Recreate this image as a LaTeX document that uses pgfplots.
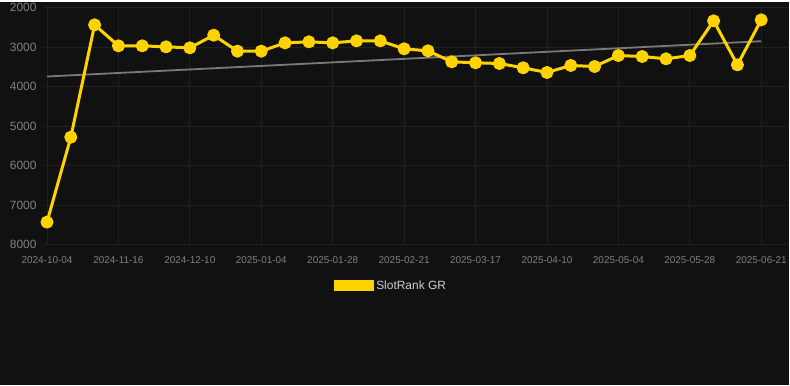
\documentclass[border=0pt]{standalone}
\usepackage{pgfplots}
\pgfplotsset{compat=1.18}
\usepackage{fontspec}
\setmainfont{Liberation Sans}
\definecolor{bg}{HTML}{111111}
\definecolor{gridc}{HTML}{202020}
\definecolor{gold}{HTML}{FFD300}
\definecolor{trend}{HTML}{7A7A7A}
\definecolor{ticktxt}{HTML}{808080}
\definecolor{legtxt}{HTML}{D0D0D0}
\begin{document}
\begin{tikzpicture}
\fill[bg] (0,0) rectangle (790bp,-384bp);
\begin{axis}[
  at={(43bp,-6bp)}, anchor=north west,
  scale only axis, width=747bp, height=237.3bp,
  xmin=-0.17, xmax=31.18,
  ymin=2000, ymax=8000, y dir=reverse,
  axis line style={draw=none},
  tick style={draw=none},
  grid=major, grid style={gridc, line width=0.8bp},
  xtick={0,3,...,30},
  xticklabels={2024-10-04,2024-11-16,2024-12-10,2025-01-04,2025-01-28,2025-02-21,2025-03-17,2025-04-10,2025-05-04,2025-05-28,2025-06-21},
  ytick={2000,3000,...,8000},
  yticklabel style={font=\fontsize{12}{14}\selectfont, text=ticktxt, xshift=-3bp},
  xticklabel style={font=\fontsize{10}{12}\selectfont, text=ticktxt, yshift=-8bp},
  /pgf/number format/assume math mode=true,
  /pgf/number format/1000 sep={},
  clip=false,
  legend style={at={(axis description cs:0.4665,-0.1736)}, anchor=center, draw=none, fill=none,
     text=legtxt, font=\fontsize{12}{14}\selectfont, inner sep=0pt},
  legend cell align=left,
]
\addplot[trend, line width=1.8bp, forget plot] coordinates {(0,3745) (30,2852)};
\addplot[gold, line width=3bp, line join=round, mark=*, mark size=5bp, mark options={solid, fill=gold, draw=none},
  legend image code/.code={\path[fill=gold, draw=none] (-7bp,-5.6bp) rectangle (33bp,5.6bp);}]
coordinates {
(0,7430) (1,5280) (2,2438) (3,2969) (4,2969) (5,2995) (6,3020) (7,2700) (8,3104) (9,3104)
(10,2894) (11,2868) (12,2894) (13,2843) (14,2843) (15,3045) (16,3096) (17,3373) (18,3398) (19,3416)
(20,3525) (21,3643) (22,3466) (23,3492) (24,3214) (25,3239) (26,3298) (27,3214) (28,2337) (29,3450) (30,2312)
};
\addlegendentry{SlotRank GR}
\end{axis}
\end{tikzpicture}
\end{document}
